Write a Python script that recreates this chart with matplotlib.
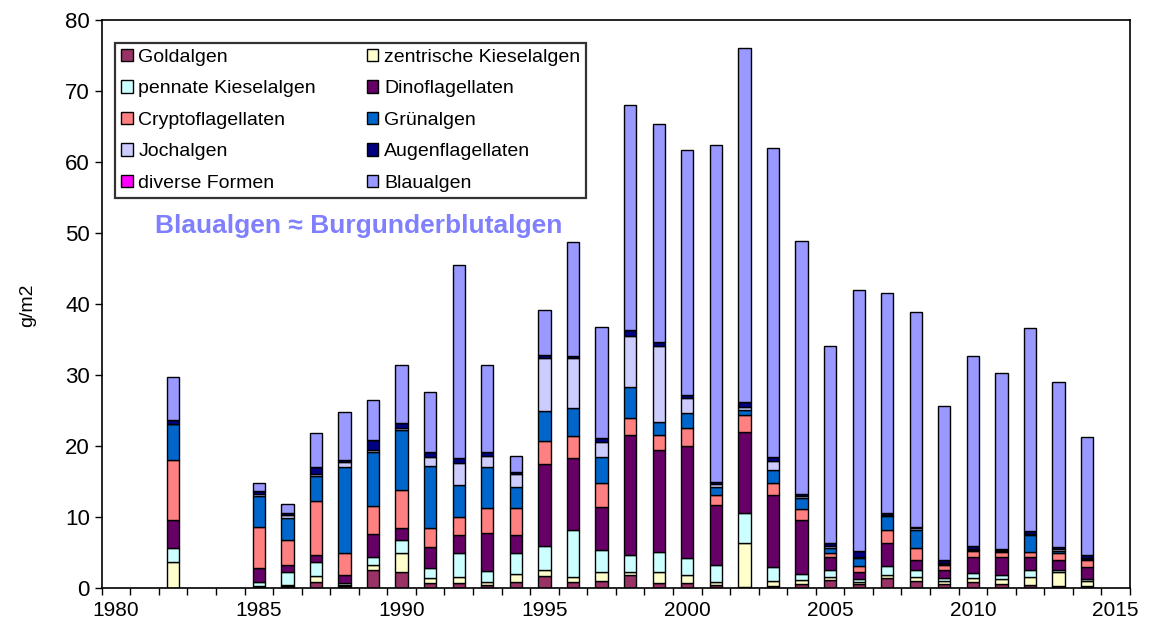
import numpy as np
import matplotlib
matplotlib.use("Agg")
import matplotlib.pyplot as plt

plt.rcParams['font.family'] = ['Liberation Sans', 'DejaVu Sans']

# Biomasse der Algengruppen (g/m2) je Jahr
years = [1982, 1985, 1986, 1987, 1988, 1989, 1990, 1991, 1992, 1993, 1994,
         1995, 1996, 1997, 1998, 1999, 2000, 2001, 2002, 2003, 2004, 2005,
         2006, 2007, 2008, 2009, 2010, 2011, 2012, 2013, 2014]

goldalgen = [0, 0.2, 0.3, 0.9, 0.3, 2.6, 2.3, 0.7, 0.75, 0.4, 0.9,
             1.7, 0.9, 1.0, 1.8, 0.75, 0.65, 0.4, 0.2, 0.3, 0.5, 1.1,
             0.55, 1.35, 1.0, 0.5, 0.9, 0.5, 0.4, 0.3, 0.3]
zentrische = [3.7, 0.1, 0.1, 0.8, 0.1, 0.6, 2.7, 0.7, 0.85, 0.5, 1.1,
              0.8, 0.6, 1.3, 0.5, 1.55, 1.15, 0.5, 6.1, 0.7, 0.6, 0.5,
              0.3, 0.45, 0.6, 0.5, 0.45, 0.7, 1.2, 2.0, 0.7]
pennate = [2.0, 0.6, 1.9, 1.9, 0.35, 1.1, 1.8, 1.4, 3.4, 1.55, 2.9,
           3.4, 6.7, 3.05, 2.35, 2.8, 2.4, 2.35, 4.2, 1.9, 0.9, 1.0,
           0.35, 1.3, 0.9, 0.4, 0.75, 0.6, 0.9, 0.2, 0.2]
dinoflagellaten = [3.9, 1.9, 0.9, 1.1, 1.15, 3.3, 1.7, 3.0, 2.5, 5.35, 2.6,
                   11.5, 10.1, 6.0, 16.9, 14.4, 15.8, 8.45, 11.5, 10.2, 7.6, 1.7,
                   1.0, 3.3, 1.4, 1.2, 2.2, 2.5, 1.9, 1.4, 1.7]
cryptoflagellaten = [8.4, 5.8, 3.5, 7.6, 3.1, 4.0, 5.3, 2.7, 2.5, 3.4, 3.7,
                     3.35, 3.1, 3.45, 2.35, 2.05, 2.5, 1.4, 2.3, 1.7, 1.5, 0.7,
                     0.9, 1.7, 1.7, 0.6, 0.9, 0.8, 0.7, 1.05, 1.0]
gruenalgen = [5.1, 4.3, 3.1, 3.5, 12.0, 7.6, 8.5, 8.7, 4.5, 5.8, 3.0,
              4.15, 4.0, 3.6, 4.45, 1.85, 2.2, 1.1, 0.8, 1.8, 1.6, 0.7,
              1.1, 2.0, 2.6, 0.2, 0.2, 0.1, 2.3, 0.3, 0.2]
jochalgen = [0, 0.4, 0.5, 0.3, 0.8, 0.2, 0.3, 1.2, 3.1, 1.6, 1.85,
             7.45, 6.95, 2.1, 7.15, 10.7, 2.0, 0.4, 0.4, 1.3, 0.2, 0.2,
             0.2, 0.2, 0.2, 0.1, 0.1, 0.1, 0.2, 0.2, 0.1]
augenflagellaten = [0.6, 0.3, 0.3, 0.9, 0.2, 1.4, 0.6, 0.8, 0.7, 0.6, 0.35,
                    0.45, 0.35, 0.6, 0.8, 0.6, 0.5, 0.4, 0.7, 0.5, 0.4, 0.5,
                    0.85, 0.3, 0.2, 0.5, 0.4, 0.2, 0.4, 0.35, 0.5]
diverse = [0] * 31
blaualgen = [6.0, 1.2, 1.3, 4.8, 6.8, 5.7, 8.2, 8.4, 27.2, 12.2, 2.2,
             6.3, 16.0, 15.6, 31.7, 30.65, 34.5, 47.4, 49.85, 43.6, 35.6, 27.7,
             36.75, 30.9, 30.3, 21.6, 26.8, 24.8, 28.6, 23.2, 16.6]

names = ['Goldalgen', 'zentrische Kieselalgen', 'pennate Kieselalgen',
         'Dinoflagellaten', 'Cryptoflagellaten', 'Grünalgen', 'Jochalgen',
         'Augenflagellaten', 'diverse Formen', 'Blaualgen']
series = [goldalgen, zentrische, pennate, dinoflagellaten, cryptoflagellaten,
          gruenalgen, jochalgen, augenflagellaten, diverse, blaualgen]
colors = ['#993366', '#FFFFCC', '#CCFFFF', '#660066', '#FF8080',
          '#0066CC', '#CCCCFF', '#000080', '#FF00FF', '#9999FF']

fig = plt.figure(figsize=(11.53, 6.35), dpi=100)
ax = fig.add_axes([101.7 / 1153, 1 - 588 / 635, (1130 - 101.7) / 1153, (588 - 20) / 635])

bottom = np.zeros(len(years))
handles = []
for name, vals, col in zip(names, series, colors):
    vals = np.array(vals, dtype=float)
    b = ax.bar(years, vals, width=0.43, bottom=bottom, color=col,
               edgecolor='black', linewidth=1.0, label=name)
    handles.append(b)
    bottom += vals

ax.set_xlim(1979.5, 2015.5)
ax.set_ylim(0, 80)
ax.set_yticks(np.arange(0, 81, 10))
ax.set_xticks(np.arange(1980, 2016, 5))
ax.set_xticks(np.arange(1979.5, 2016, 1), minor=True)
ax.tick_params(axis='x', which='major', length=0, labelsize=15, pad=9)
ax.tick_params(axis='x', which='minor', length=5, width=1, direction='out')
ax.tick_params(axis='y', length=5, width=1, direction='out', labelsize=16)
for s in ax.spines.values():
    s.set_linewidth(1.2)

fig.text(28 / 1153, 1 - 305 / 635, 'g/m2', rotation=90, ha='center', va='center', fontsize=14)

ax.text(1981.37, 51.0, 'Blaualgen \u2248 Burgunderblutalgen', color='#8080FF',
        fontsize=19, fontweight='bold', ha='left', va='center')

# Legende zeilenweise: Spalten-Reihenfolge fuer ncol=2 umsortieren
order = [0, 2, 4, 6, 8, 1, 3, 5, 7, 9]
leg = ax.legend([handles[i] for i in order], [names[i] for i in order],
                ncol=2, loc='upper left', bbox_to_anchor=(0.013, 0.96),
                fontsize=14, frameon=True, fancybox=False, framealpha=1,
                edgecolor='#333333', handlelength=0.6, handleheight=0.6,
                handletextpad=0.3, labelspacing=0.75, columnspacing=2.6,
                borderpad=0.3, borderaxespad=0)
leg.get_frame().set_linewidth(1.6)

fig.savefig('out.png', dpi=100)
